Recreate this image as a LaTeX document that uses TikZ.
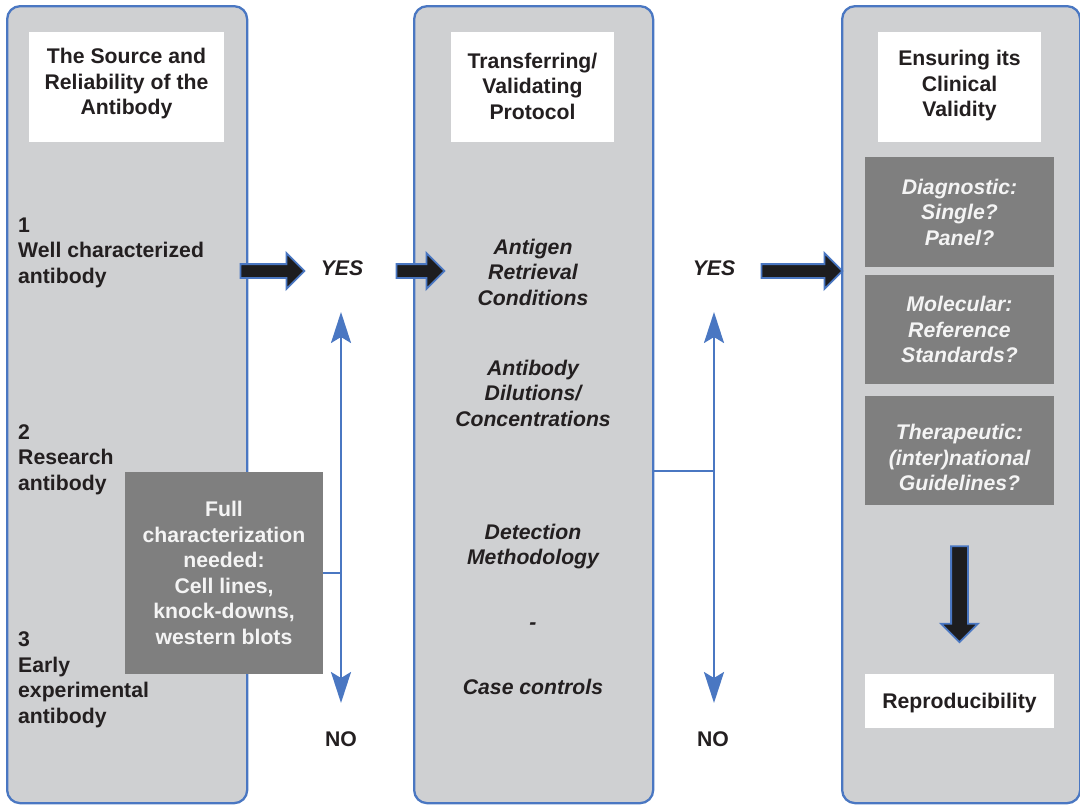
\documentclass[tikz,border=0pt]{standalone}
\usepackage{fontspec}
\setmainfont{Liberation Sans}
\usetikzlibrary{arrows.meta,shapes.arrows}
\definecolor{colgray}{HTML}{CFD0D2}
\definecolor{boxgray}{HTML}{7F7F7F}
\definecolor{edgeblue}{HTML}{4A77C2}
\definecolor{ink}{HTML}{231F20}
\definecolor{arrowblack}{HTML}{1D1D1F}
\definecolor{paletext}{HTML}{F4F4F4}

\begin{document}
\begin{tikzpicture}[x=1pt,y=-1pt,
  font=\fontsize{21.2}{25.5}\selectfont\bfseries, text=ink,
  column/.style={draw=edgeblue, line width=2.3pt, fill=colgray,
    rounded corners=13pt, minimum width=240pt, minimum height=797pt,
    anchor=north west, inner sep=0pt},
  titlebox/.style={fill=white, minimum width=195pt, minimum height=110pt, inner sep=0pt},
  titletext/.style={align=center, inner sep=0pt},
  lefttext/.style={align=left, anchor=west, inner sep=0pt},
  steptext/.style={align=center, inner sep=0pt, font=\fontsize{21.2}{25.5}\selectfont\bfseries\itshape},
  darkbox/.style={fill=boxgray, text=paletext, align=center, inner sep=0pt,
    minimum width=189pt, minimum height=110pt,
    font=\fontsize{21.2}{25.5}\selectfont\bfseries\itshape},
  paleitalic/.style={text=paletext, align=center, inner sep=0pt,
    font=\fontsize{21.2}{25.5}\selectfont\bfseries\itshape},
  fullbox/.style={fill=boxgray, text=paletext, align=center, inner sep=0pt,
    minimum width=198pt, minimum height=202pt},
  answer/.style={inner sep=0pt},
  link/.style={draw=edgeblue, line width=2.3pt},
  biarrow/.style={link, {Stealth[length=31pt,width=20pt,inset=6pt]}-{Stealth[length=31pt,width=20pt,inset=6pt]}},
  blockarrow/.style={single arrow, draw=edgeblue, fill=arrowblack, line width=1.8pt,
    inner xsep=0pt, inner ysep=6pt, single arrow head extend=11pt,
    single arrow tip angle=90},
]
\useasboundingbox (0,0) rectangle (1080,804);

% three columns
\node[column] (col1) at (6,5) {};
\node[column, minimum width=239pt] (col2) at (413,5) {};
\node[column, minimum width=238pt] (col3) at (841,5) {};

% column headings
\node[titlebox] (h1) at (126.5,87) {};
\node[titletext] (h1t) at (126.5,84) {The Source and\\Reliability of the\\Antibody};
\node[titlebox, minimum width=163pt] (h2) at (532.5,87) {};
\node[titletext] (h2t) at (532.5,86) {Transferring/\\Validating\\Protocol};
\node[titlebox, minimum width=163pt] (h3) at (959.5,87) {};
\node[titletext] (h3t) at (959.5,86) {Ensuring its\\Clinical\\Validity};

% antibody categories
\node[lefttext] (a1) at (18,252.5) {1\\Well characterized\\antibody};
\node[lefttext] (a2) at (18,459.5) {2\\Research\\antibody};
\node[lefttext] (a3) at (18,680) {3\\Early\\experimental\\antibody};

\node[fullbox] (full) at (224,573) {Full\\characterization\\needed:\\Cell lines,\\knock-downs,\\western blots};

% protocol steps
\node[steptext] (p1) at (533,272) {Antigen\\Retrieval\\Conditions};
\node[steptext] (p2) at (533,393) {Antibody\\Dilutions/\\Concentrations};
\node[steptext] (p3) at (533,546.5) {Detection\\Methodology};
\node[steptext] (p4) at (533,626) {-};
\node[steptext] (p5) at (533,687) {Case controls};

% clinical validity
\node[darkbox] (d1) at (959.5,212) {Diagnostic:\\Single?\\Panel?};
\node[darkbox, minimum height=109pt] (d2) at (959.5,329.5) {Molecular:\\Reference\\Standards?};
\node[darkbox, minimum height=109pt] (d3) at (959.5,450.5) {};
\node[paleitalic] (d3t) at (959.5,457.5) {Therapeutic:\\(inter)national\\Guidelines?};
\node[fill=white, minimum width=189pt, minimum height=54pt, inner sep=0pt] (rep) at (959.5,701) {};
\node[inner sep=0pt] (rept) at (959.5,703.5) {Reproducibility};

% decisions
\node[answer, font=\fontsize{21.2}{25.5}\selectfont\bfseries\itshape] (yes1) at (342,268) {YES};
\node[answer, font=\fontsize{21.2}{25.5}\selectfont\bfseries\itshape] (yes2) at (714,268) {YES};
\node[answer] (no1) at (341,739) {NO};
\node[answer] (no2) at (713,739) {NO};

% block arrows
\node[blockarrow, minimum height=64pt] (ba1) at (269,271) {};
\node[blockarrow, minimum height=48pt] (ba2) at (417,271) {};
\node[blockarrow, minimum height=81pt] (ba3) at (798.5,271) {};
\node[blockarrow, minimum height=96pt, inner ysep=7.5pt, single arrow head extend=10pt, rotate=-90] (ba4) at (959.5,590) {};

% yes/no branches
\coordinate (u1) at (341,312);
\coordinate (l1) at (341,703);
\draw[biarrow] (u1) -- (l1);
\draw[link] (full.east) -- (full.east -| u1);

\coordinate (u2) at (714,312);
\coordinate (l2) at (714,703);
\coordinate (j2) at (714,471);
\draw[biarrow] (u2) -- (l2);
\draw[link] (j2 -| col2.east) -- (j2);
\end{tikzpicture}
\end{document}
